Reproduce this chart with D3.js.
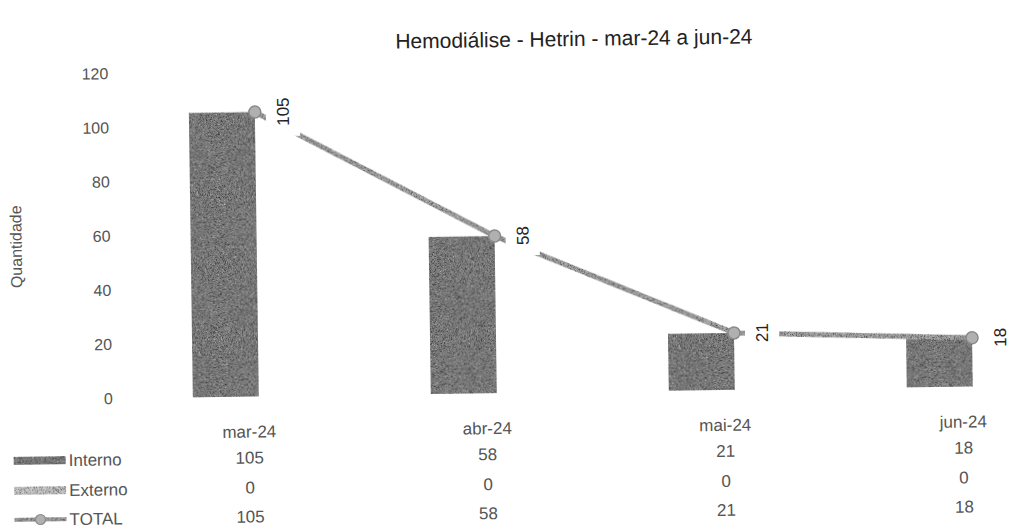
<!DOCTYPE html>
<html>
<head>
<meta charset="utf-8">
<script src="https://cdn.jsdelivr.net/npm/d3@7"></script>
<style>
  html, body { margin: 0; padding: 0; background: #fff; }
  svg { display: block; font-family: "Liberation Sans", Arial, sans-serif; }
</style>
</head>
<body>
<svg id="chart" width="1011" height="530"></svg>
<script>
// Monthly hemodialysis counts
const categories = ["mar-24", "abr-24", "mai-24", "jun-24"];
const interno = [105, 58, 21, 18];
const externo = [0, 0, 0, 0];
const total = [105, 58, 21, 18];
const yTicks = [0, 20, 40, 60, 80, 100, 120];
const seriesNames = ["Interno", "Externo", "TOTAL"];
const titleText = "Hemodiálise - Hetrin - mar-24 a jun-24";
const yTitle = "Quantidade";

const W = 1011, H = 530;
const svg = d3.select("#chart");

// fine speckle texture for printed fills
const defs = svg.append("defs");
const f = defs.append("filter").attr("id", "grain")
  .attr("filterUnits", "userSpaceOnUse")
  .attr("x", -50).attr("y", -50).attr("width", W + 100).attr("height", H + 100)
  .attr("color-interpolation-filters", "sRGB");
f.append("feTurbulence").attr("type", "fractalNoise").attr("baseFrequency", 1.6)
  .attr("numOctaves", 1).attr("seed", 11).attr("result", "noise");
f.append("feColorMatrix").attr("in", "noise").attr("type", "matrix")
  .attr("values", "0 0 0 0 0  0 0 0 0 0  0 0 0 0 0  1.8 0 0 0 -0.85").attr("result", "dots");
f.append("feComposite").attr("in", "dots").attr("in2", "SourceGraphic")
  .attr("operator", "in").attr("result", "dark");
f.append("feColorMatrix").attr("in", "noise").attr("type", "matrix")
  .attr("values", "0 0 0 0 1  0 0 0 0 1  0 0 0 0 1  0 -1.8 0 0 0.8").attr("result", "wdots");
f.append("feComposite").attr("in", "wdots").attr("in2", "SourceGraphic")
  .attr("operator", "in").attr("result", "light");
const fm = f.append("feMerge");
fm.append("feMergeNode").attr("in", "SourceGraphic");
fm.append("feMergeNode").attr("in", "dark");
fm.append("feMergeNode").attr("in", "light");

svg.append("rect").attr("width", W).attr("height", H).attr("fill", "#fff");

// the whole sheet sits at a slight tilt
const root = svg.append("g").attr("transform", "rotate(-0.8, 505, 265)");

const x = d3.scaleBand().domain(categories).range([138, 1090]).paddingInner(0).paddingOuter(0);
const xs = d3.scaleBand().domain(["Interno", "Externo"]).range([-66, 66]);
const y = d3.scaleLinear().domain([0, 120]).range([393, 68]);
const cx = c => x(c) + x.bandwidth() / 2;

const colInterno = "#7d7d7d";
const colExterno = "#c4c4c4";
const colLine = "#a0a0a0";

// title
root.append("text").attr("x", 577).attr("y", 47).attr("text-anchor", "middle")
  .attr("font-size", 21).attr("fill", "#222").text(titleText);

// y axis (labels only)
const yAxis = d3.axisLeft(y).tickValues(yTicks).tickSize(0).tickPadding(0);
const gy = root.append("g").attr("transform", "translate(111,0)").call(yAxis);
gy.select(".domain").remove();
gy.selectAll("text").attr("font-size", 16).attr("fill", "#555")
  .attr("font-family", "Liberation Sans, Arial, sans-serif");

root.append("text").attr("transform", "translate(22,240) rotate(-90)")
  .attr("text-anchor", "middle").attr("font-size", 16).attr("fill", "#555").text(yTitle);

// bars
const barData = categories.map((c, i) => ({ c, Interno: interno[i], Externo: externo[i] }));
const gb = root.append("g");
["Interno", "Externo"].forEach(s => {
  gb.selectAll(null).data(barData).join("rect")
    .attr("x", d => cx(d.c) + xs(s))
    .attr("y", d => y(d[s]))
    .attr("width", xs.bandwidth())
    .attr("height", d => y(0) - y(d[s]))
    .attr("fill", s === "Interno" ? colInterno : colExterno)
    .attr("filter", "url(#grain)");
});

// total line
const pts = categories.map((c, i) => ({ c, v: total[i] }));
root.append("path").datum(pts)
  .attr("d", d3.line().x(d => cx(d.c)).y(d => y(d.v)))
  .attr("fill", "none").attr("stroke", colLine).attr("stroke-width", 5)
  .attr("filter", "url(#grain)");
root.selectAll(null).data(pts).join("circle")
  .attr("cx", d => cx(d.c)).attr("cy", d => y(d.v)).attr("r", 6)
  .attr("fill", "#b0b0b0").attr("stroke", "#8a8a8a").attr("stroke-width", 1.5);

// data labels on white boxes
const gl = root.append("g");
pts.forEach(d => {
  const lx = cx(d.c) + 28, ly = y(d.v);
  const t = gl.append("text").attr("transform", `translate(${lx},${ly}) rotate(-90)`)
    .attr("text-anchor", "middle").attr("dy", "0.35em")
    .attr("font-size", 17).attr("fill", "#222").text(d.v);
  const len = t.node().getComputedTextLength();
  gl.insert("rect", "text").attr("x", lx - 17).attr("y", ly - len / 2 - 10)
    .attr("width", 34).attr("height", len + 20).attr("fill", "#fff");
});

// data table
const rowsY = [428, 454, 484, 513];
const tx = c => cx(c) - 10;
const gt = root.append("g").attr("font-size", 17).attr("fill", "#555").attr("text-anchor", "middle");
gt.selectAll(null).data(categories).join("text")
  .attr("x", tx).attr("y", rowsY[0]).attr("dy", "0.35em").text(d => d);
[interno, externo, total].forEach((arr, r) => {
  gt.selectAll(null).data(categories).join("text")
    .attr("x", tx).attr("y", rowsY[r + 1]).attr("dy", "0.35em").text((d, i) => arr[i]);
});

// legend keys
const gk = root.append("g");
seriesNames.forEach((s, r) => {
  const yy = rowsY[r + 1];
  if (s === "TOTAL") {
    gk.append("line").attr("x1", 11).attr("x2", 63).attr("y1", yy).attr("y2", yy)
      .attr("stroke", colLine).attr("stroke-width", 4).attr("filter", "url(#grain)");
    gk.append("circle").attr("cx", 37).attr("cy", yy).attr("r", 5)
      .attr("fill", "#b0b0b0").attr("stroke", "#8a8a8a").attr("stroke-width", 1.2);
  } else {
    gk.append("rect").attr("x", 11).attr("y", yy - 4).attr("width", 52).attr("height", 8)
      .attr("fill", s === "Interno" ? colInterno : colExterno).attr("filter", "url(#grain)");
  }
  gk.append("text").attr("x", 66).attr("y", yy).attr("dy", "0.35em")
    .attr("font-size", 17).attr("fill", "#555").text(s);
});
</script>
</body>
</html>
